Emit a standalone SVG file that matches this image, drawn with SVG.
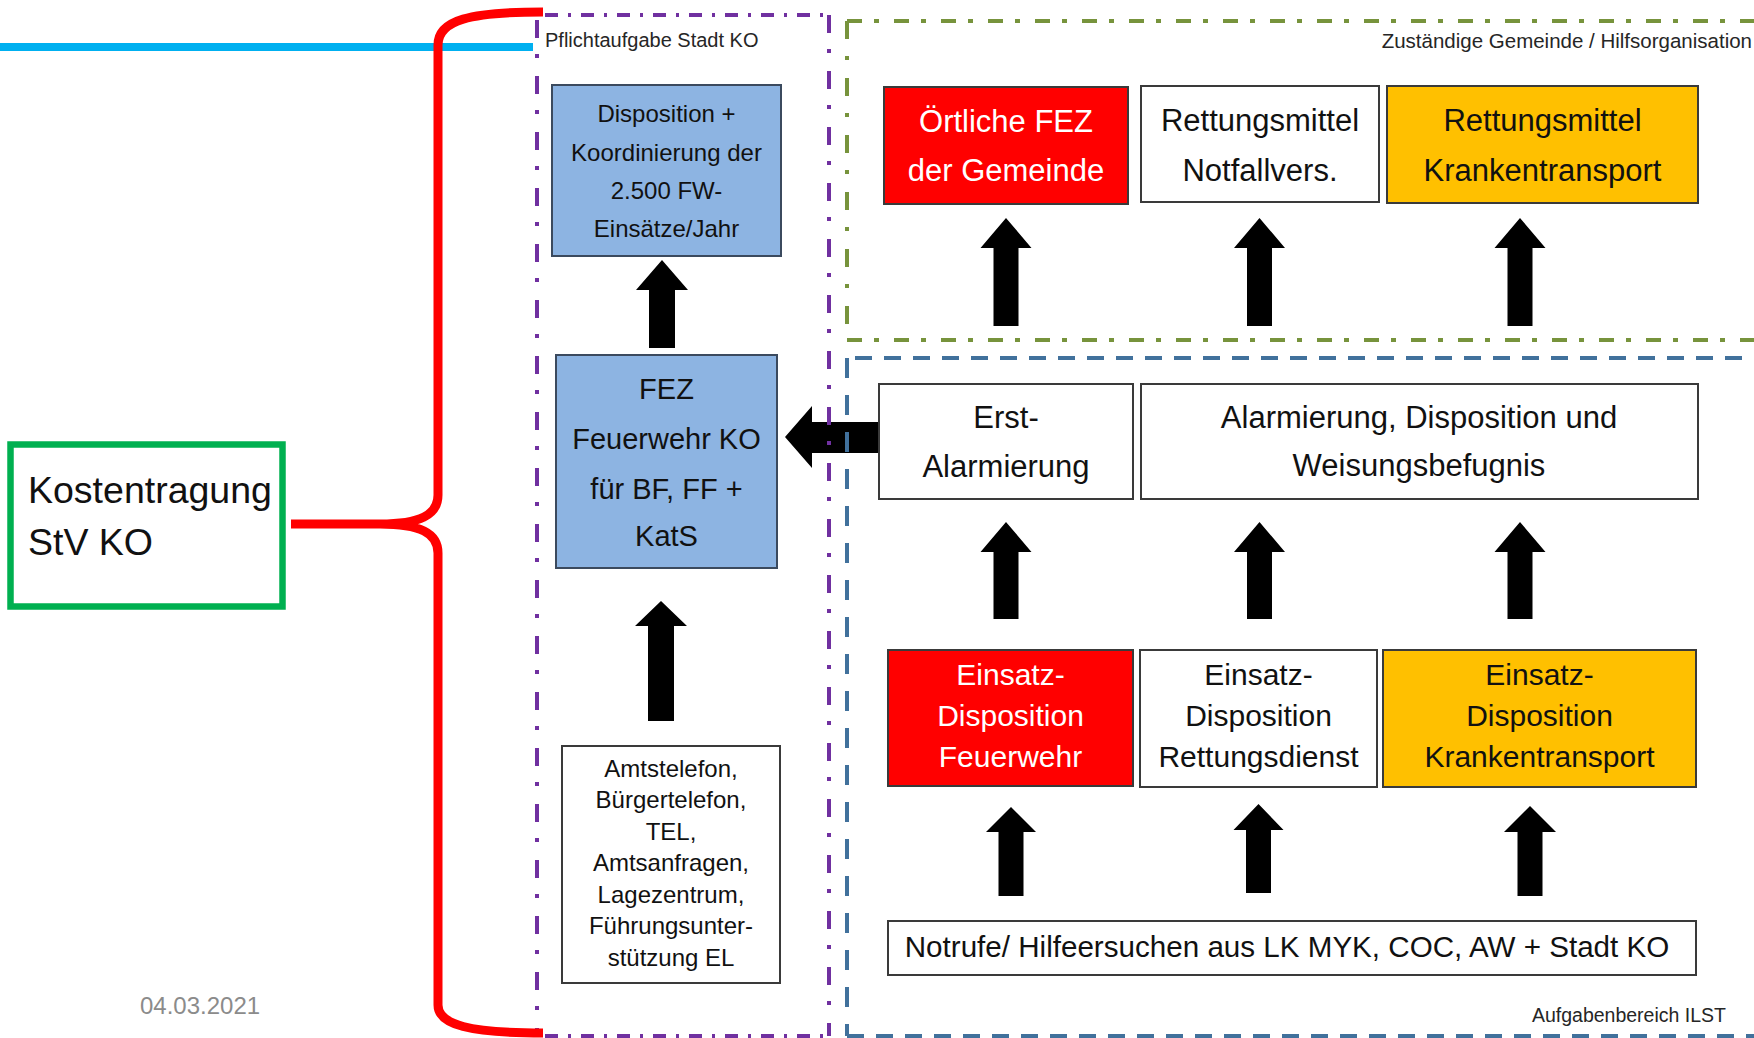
<svg xmlns="http://www.w3.org/2000/svg" width="1754" height="1038" viewBox="0 0 1754 1038">
<style>
text{font-family:"Liberation Sans",Arial,sans-serif;fill:#111}
.c{text-anchor:middle}
.box{stroke:#3a3a3a;stroke-width:2}
.bl{fill:#8DB4E2;stroke:#3B4A5E;stroke-width:2}
.wh{fill:#fff}
.rd{fill:#FF0000}
.ye{fill:#FFC000}
.w{fill:#fff}
.arr{fill:#000}
.pu{stroke:#7030A0;stroke-width:4;fill:none}
.puh{stroke-dasharray:13 10 3 10}
.puv{stroke-dasharray:18 16 4 18}
.gr{stroke:#77933C;stroke-width:4;fill:none}
.grh{stroke-dasharray:15 12 5 15}
.grv{stroke-dasharray:18 17 4 18}
.be{stroke:#41719C;stroke-width:4;fill:none}
.beh{stroke-dasharray:17 12}
.bev{stroke-dasharray:20 17}
.lbl{fill:#262626}
</style>
<rect width="1754" height="1038" fill="#fff"/>
<line x1="0" y1="47" x2="533" y2="47" stroke="#00B0F0" stroke-width="8"/>

<g id="connectors">
<polygon class="arr" points="662,260 688,290 675,290 675,348 649,348 649,290 636,290"/>
<polygon class="arr" points="661,601 687,626 674,626 674,721 648,721 648,626 635,626"/>
<polygon class="arr" points="785,437 812,406 812,422 879,422 879,453 812,453 812,468"/>
<polygon class="arr" points="1006,218 1031.5,248 1018.5,248 1018.5,326 993.5,326 993.5,248 980.5,248"/>
<polygon class="arr" points="1259.5,218 1285,248 1272,248 1272,326 1247,326 1247,248 1234,248"/>
<polygon class="arr" points="1520,218 1545.5,248 1532.5,248 1532.5,326 1507.5,326 1507.5,248 1494.5,248"/>
<polygon class="arr" points="1006,522 1031.5,552 1018.5,552 1018.5,619 993.5,619 993.5,552 980.5,552"/>
<polygon class="arr" points="1259.5,522 1285,552 1272,552 1272,619 1247,619 1247,552 1234,552"/>
<polygon class="arr" points="1520,522 1545.5,552 1532.5,552 1532.5,619 1507.5,619 1507.5,552 1494.5,552"/>
<polygon class="arr" points="1011,807 1036,832 1023.5,832 1023.5,896 998.5,896 998.5,832 986,832"/>
<polygon class="arr" points="1258.5,804 1283.5,830 1271,830 1271,893 1246,893 1246,830 1233.5,830"/>
<polygon class="arr" points="1530,806 1556,832 1542.5,832 1542.5,896 1517.5,896 1517.5,832 1504,832"/>
</g>

<g id="area-pflicht">
<line class="pu puh" x1="545" y1="15" x2="829" y2="15"/>
<line class="pu puv" x1="537" y1="20" x2="537" y2="1036"/>
<line class="pu puv" x1="829" y1="15" x2="829" y2="1036"/>
<line class="pu puh" x1="545" y1="1036" x2="829" y2="1036"/>
<text class="lbl" x="545" y="47" font-size="20">Pflichtaufgabe Stadt KO</text>
</g>

<g id="area-gemeinde">
<line class="gr grh" x1="847" y1="21" x2="1754" y2="21"/>
<line class="gr grv" x1="847" y1="21" x2="847" y2="340"/>
<line class="gr grh" x1="847" y1="340" x2="1754" y2="340"/>
<text class="lbl" x="1752" y="48" font-size="20.5" text-anchor="end">Zuständige Gemeinde / Hilfsorganisation</text>
</g>

<g id="area-ilst">
<line class="be beh" x1="855" y1="358" x2="1754" y2="358"/>
<line class="be bev" x1="847" y1="358" x2="847" y2="1036"/>
<line class="be beh" x1="847" y1="1036" x2="1754" y2="1036"/>
<text class="lbl" x="1726" y="1022" font-size="19.5" text-anchor="end">Aufgabenbereich ILST</text>
</g>

<g id="bracket">
<path d="M543 12 C470 12 438 20 438 45 L438 495 C438 515 420 524 380 524 L291 524 M380 524 C420 524 438 533 438 553 L438 1005 C438 1025 470 1033 543 1033" fill="none" stroke="#FF0000" stroke-width="9" stroke-linejoin="round"/>
</g>

<g id="node-kosten">
<rect x="10.5" y="444.5" width="272" height="162" fill="#fff" stroke="#00B050" stroke-width="6.5"/>
<text x="28" y="503" font-size="37.5">Kostentragung</text>
<text x="28" y="555" font-size="37.5">StV KO</text>
</g>

<g id="node-disposition">
<rect class="bl" x="552" y="85" width="229" height="171"/>
<text class="c" font-size="24"><tspan x="666.5" y="122">Disposition +</tspan><tspan x="666.5" y="161">Koordinierung der</tspan><tspan x="666.5" y="199">2.500 FW-</tspan><tspan x="666.5" y="237">Einsätze/Jahr</tspan></text>
</g>

<g id="node-fez">
<rect class="bl" x="556" y="355" width="221" height="213"/>
<text class="c" font-size="29"><tspan x="666.5" y="399">FEZ</tspan><tspan x="666.5" y="449">Feuerwehr KO</tspan><tspan x="666.5" y="499">für BF, FF +</tspan><tspan x="666.5" y="546">KatS</tspan></text>
</g>

<g id="node-amt">
<rect class="box wh" x="562" y="746" width="218" height="237"/>
<text class="c" font-size="24"><tspan x="671" y="776.5">Amtstelefon,</tspan><tspan x="671" y="808">Bürgertelefon,</tspan><tspan x="671" y="839.5">TEL,</tspan><tspan x="671" y="871">Amtsanfragen,</tspan><tspan x="671" y="902.5">Lagezentrum,</tspan><tspan x="671" y="934">Führungsunter-</tspan><tspan x="671" y="965.5">stützung EL</tspan></text>
</g>

<g id="node-oertliche">
<rect class="box rd" x="884" y="87" width="244" height="117"/>
<text class="c w" font-size="31"><tspan x="1006" y="132">Örtliche FEZ</tspan><tspan x="1006" y="181">der Gemeinde</tspan></text>
</g>

<g id="node-rm-notfall">
<rect class="box wh" x="1141" y="86" width="238" height="116"/>
<text class="c" font-size="31"><tspan x="1260" y="131">Rettungsmittel</tspan><tspan x="1260" y="181">Notfallvers.</tspan></text>
</g>

<g id="node-rm-kt">
<rect class="box ye" x="1387" y="86" width="311" height="117"/>
<text class="c" font-size="31"><tspan x="1542.5" y="131">Rettungsmittel</tspan><tspan x="1542.5" y="181">Krankentransport</tspan></text>
</g>

<g id="node-erst">
<rect class="box wh" x="879" y="384" width="254" height="115"/>
<text class="c" font-size="31"><tspan x="1006" y="428">Erst-</tspan><tspan x="1006" y="477">Alarmierung</tspan></text>
</g>

<g id="node-alarmierung">
<rect class="box wh" x="1141" y="384" width="557" height="115"/>
<text class="c" font-size="31"><tspan x="1419" y="428">Alarmierung, Disposition und</tspan><tspan x="1419" y="476">Weisungsbefugnis</tspan></text>
</g>

<g id="node-ed-fw">
<rect class="box rd" x="888" y="650" width="245" height="136"/>
<text class="c w" font-size="30"><tspan x="1010.5" y="685">Einsatz-</tspan><tspan x="1010.5" y="726">Disposition</tspan><tspan x="1010.5" y="767">Feuerwehr</tspan></text>
</g>

<g id="node-ed-rd">
<rect class="box wh" x="1140" y="650" width="237" height="137"/>
<text class="c" font-size="30"><tspan x="1258.5" y="685">Einsatz-</tspan><tspan x="1258.5" y="726">Disposition</tspan><tspan x="1258.5" y="767">Rettungsdienst</tspan></text>
</g>

<g id="node-ed-kt">
<rect class="box ye" x="1383" y="650" width="313" height="137"/>
<text class="c" font-size="30"><tspan x="1539.5" y="685">Einsatz-</tspan><tspan x="1539.5" y="726">Disposition</tspan><tspan x="1539.5" y="767">Krankentransport</tspan></text>
</g>

<g id="node-notrufe">
<rect class="box wh" x="888" y="921" width="808" height="54"/>
<text class="c" x="1287" y="957" font-size="29.6">Notrufe/ Hilfeersuchen aus LK MYK, COC, AW + Stadt KO</text>
</g>

<text x="140" y="1014" font-size="24" style="fill:#8B8B8B">04.03.2021</text>
</svg>
